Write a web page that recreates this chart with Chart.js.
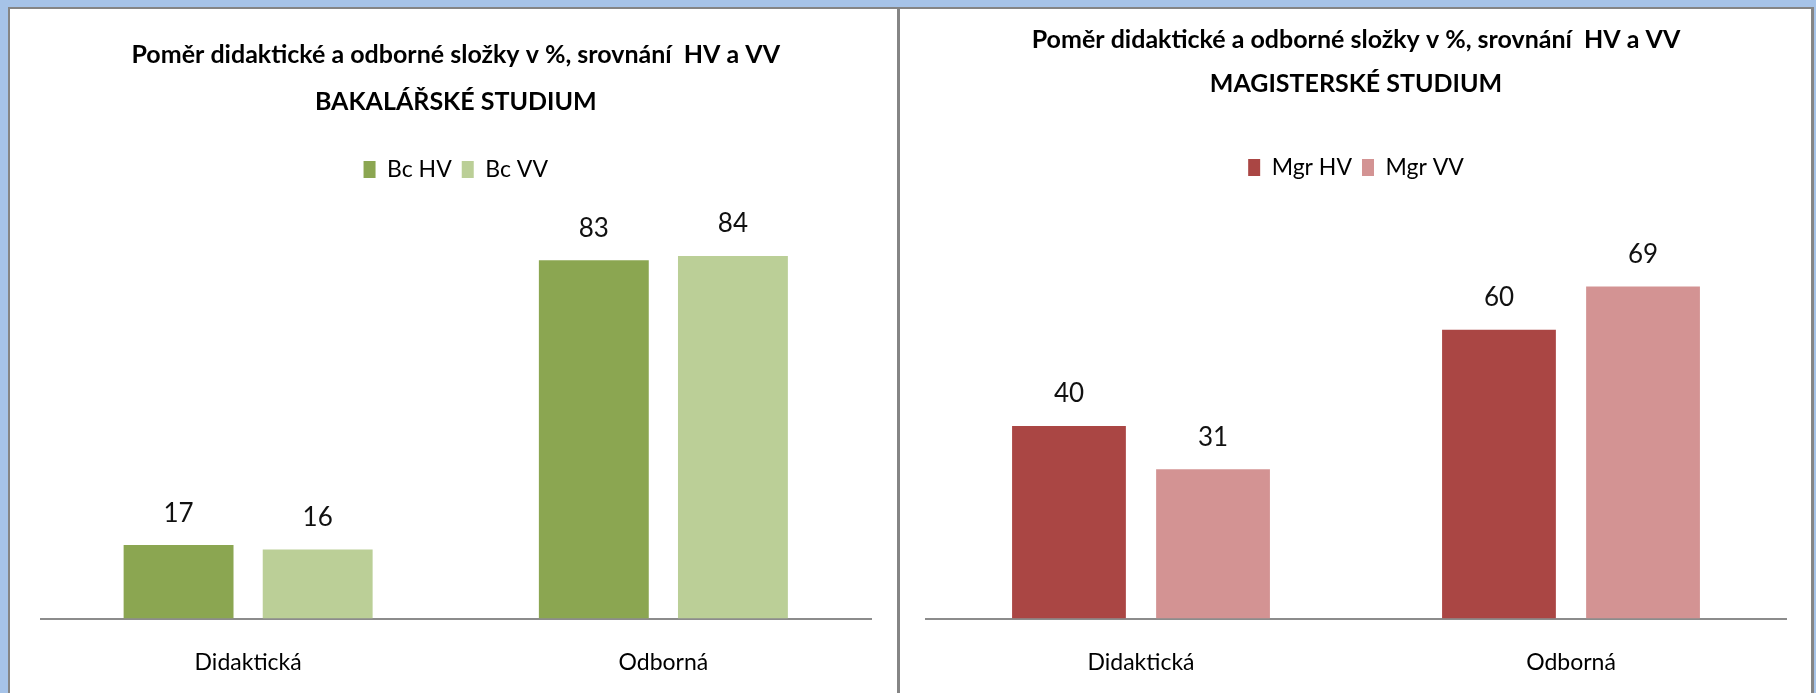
<!DOCTYPE html>
<html>
<head>
<meta charset="utf-8">
<script src="https://cdn.jsdelivr.net/npm/chart.js@4"></script>
<style>
  body { margin: 0; width: 1816px; height: 693px; background: #a6c3e8; position: relative; overflow: hidden; }
  .panel { position: absolute; top: 7px; height: 700px; background: #fff; border-top: 2px solid #858585; overflow: hidden; }
  #p1 { left: 8px; width: 887px; border-left: 2px solid #858585; border-right: 3px solid #858585; }
  #p2 { left: 900px; width: 911px; border-right: 3px solid #858585; }
  canvas { display: block; }
</style>
</head>
<body>
<div class="panel" id="p1"><canvas id="bc" width="887" height="684"></canvas></div>
<div class="panel" id="p2"><canvas id="mgr" width="911" height="684"></canvas></div>
<script>
var categories = ["Didaktická", "Odborná"];

var bcLabels = ["Bc HV", "Bc VV"];
var bcHV = [17, 83];
var bcVV = [16, 84];

var mgrLabels = ["Mgr HV", "Mgr VV"];
var mgrHV = [40, 60];
var mgrVV = [31, 69];

var FONT = "Lato, 'Open Sans', sans-serif";

// numbers above the bars
var valueLabels = {
    id: 'valueLabels',
    afterDatasetsDraw: function(chart) {
        var ctx = chart.ctx;
        ctx.save();
        ctx.font = '26px ' + FONT;
        ctx.fillStyle = '#111';
        ctx.textAlign = 'center';
        ctx.textBaseline = 'middle';
        chart.data.datasets.forEach(function(ds, i) {
            chart.getDatasetMeta(i).data.forEach(function(bar, j) {
                ctx.fillText(ds.data[j], bar.x, bar.y - 32);
            });
        });
        ctx.restore();
    }
};

// extra room between legend and plot area
function legendGap(px) {
    return {
        id: 'legendGap',
        beforeInit: function(chart) {
            var fit = chart.legend.fit;
            chart.legend.fit = function() {
                fit.bind(chart.legend)();
                this.height += px;
            };
        }
    };
}

function makeChart(id, title, labels, hv, vv, colors, max, pad, lineH, titleTop, titleBottom, gap) {
    return new Chart(document.getElementById(id), {
        type: 'bar',
        data: {
            labels: categories,
            datasets: [{
                label: labels[0],
                data: hv,
                backgroundColor: colors[0],
                barPercentage: 0.79,
                categoryPercentage: 0.67
            }, {
                label: labels[1],
                data: vv,
                backgroundColor: colors[1],
                barPercentage: 0.79,
                categoryPercentage: 0.67
            }]
        },
        options: {
            responsive: false,
            animation: false,
            layout: { padding: { left: pad[0], right: pad[1], top: 0, bottom: -13.5 } },
            plugins: {
                title: {
                    display: true,
                    text: title,
                    color: '#000',
                    font: { family: FONT, size: 25, weight: 'bold', lineHeight: lineH + 'px' },
                    padding: { top: titleTop, bottom: titleBottom }
                },
                legend: {
                    position: 'top',
                    labels: {
                        color: '#000',
                        font: { family: FONT, size: 23 },
                        boxWidth: 12,
                        boxHeight: 17,
                        padding: 10
                    }
                },
                tooltip: { enabled: false }
            },
            scales: {
                x: {
                    grid: { display: false, drawTicks: false },
                    border: { display: true, color: '#8c8c8c', width: 2 },
                    ticks: { color: '#000', padding: 44, font: { family: FONT, size: 23, lineHeight: '0px' } }
                },
                y: {
                    display: false,
                    min: 0,
                    max: max
                }
            }
        },
        plugins: [valueLabels, legendGap(gap)]
    });
}

makeChart('bc',
    ["Poměr didaktické a odborné složky v %, srovnání  HV a VV", "BAKALÁŘSKÉ STUDIUM"],
    bcLabels, bcHV, bcVV, ['#8ba651', '#bbcf97'], 90, [30.5, 26], 47, 22, 23, 39);

makeChart('mgr',
    ["Poměr didaktické a odborné složky v %, srovnání  HV a VV", "MAGISTERSKÉ STUDIUM"],
    mgrLabels, mgrHV, mgrVV, ['#aa4644', '#d39393'], 80, [26, 25], 44, 9, 40, 44.5);
</script>
</body>
</html>
